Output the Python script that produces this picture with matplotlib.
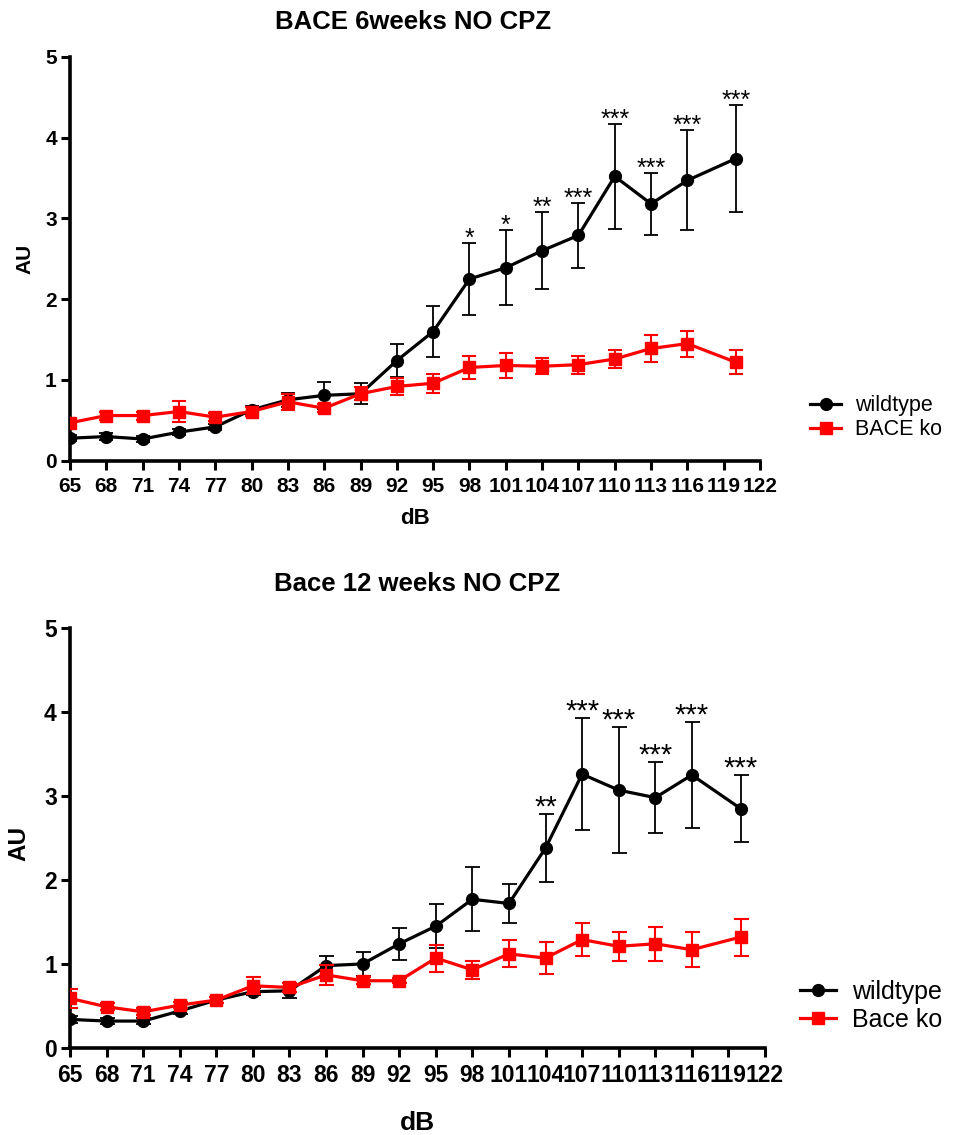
import matplotlib
matplotlib.use("Agg")
import matplotlib.pyplot as plt
from matplotlib.lines import Line2D

plt.rcParams['font.family'] = ['Liberation Sans', 'DejaVu Sans']

# Sound level (dB) for both sessions
db = [65, 68, 71, 74, 77, 80, 83, 86, 89, 92, 95, 98, 101, 104, 107, 110, 113, 116, 120]
xticks = list(range(65, 123, 3))
yticks = [0, 1, 2, 3, 4, 5]

# 6 weeks, no CPZ
wt6_mean = [0.28, 0.30, 0.27, 0.355, 0.42, 0.63, 0.755, 0.81, 0.83, 1.24, 1.60, 2.25, 2.39, 2.60, 2.79, 3.52, 3.18, 3.47, 3.74]
wt6_err = [0.04, 0.04, 0.04, 0.04, 0.04, 0.05, 0.09, 0.17, 0.13, 0.20, 0.31, 0.44, 0.46, 0.48, 0.40, 0.65, 0.38, 0.62, 0.66]
ko6_mean = [0.47, 0.56, 0.56, 0.61, 0.54, 0.61, 0.73, 0.65, 0.83, 0.92, 0.96, 1.155, 1.18, 1.17, 1.19, 1.26, 1.39, 1.45, 1.22]
ko6_err = [0.04, 0.05, 0.05, 0.13, 0.05, 0.05, 0.10, 0.05, 0.08, 0.11, 0.12, 0.145, 0.15, 0.10, 0.11, 0.11, 0.17, 0.16, 0.15]
sig6 = ["", "", "", "", "", "", "", "", "", "", "", "*", "*", "**", "***", "***", "***", "***", "***"]

# 12 weeks, no CPZ
wt12_mean = [0.34, 0.32, 0.32, 0.44, 0.57, 0.67, 0.68, 0.98, 1.00, 1.24, 1.45, 1.77, 1.72, 2.38, 3.26, 3.07, 2.98, 3.25, 2.85]
wt12_err = [0.04, 0.04, 0.04, 0.04, 0.04, 0.04, 0.09, 0.12, 0.14, 0.19, 0.26, 0.38, 0.23, 0.40, 0.67, 0.75, 0.42, 0.63, 0.40]
ko12_mean = [0.59, 0.49, 0.43, 0.51, 0.57, 0.74, 0.72, 0.87, 0.80, 0.80, 1.07, 0.93, 1.12, 1.07, 1.29, 1.21, 1.24, 1.17, 1.32]
ko12_err = [0.11, 0.04, 0.04, 0.04, 0.04, 0.10, 0.05, 0.12, 0.04, 0.03, 0.16, 0.11, 0.16, 0.19, 0.20, 0.17, 0.20, 0.21, 0.22]
sig12 = ["", "", "", "", "", "", "", "", "", "", "", "", "", "**", "***", "***", "***", "***", "***"]

RED = '#ff0000'
fig = plt.figure(figsize=(9.59, 11.35), dpi=100)


def panel(rect, title, title_xy, wt_m, wt_e, ko_m, ko_e, sig, ko_label,
          tick_fs, xlab_fs, ylab_fs, title_fs, star_fs, star_off, leg_fs,
          leg_pos, xlab_y, ylab_xy, capsize):
    ax = fig.add_axes(rect)
    ax.errorbar(db, wt_m, yerr=wt_e, color='black', lw=2.3, marker='o', ms=8.5,
                ecolor='black', elinewidth=1.3, capsize=capsize, capthick=1.3, zorder=3)
    ax.errorbar(db, ko_m, yerr=ko_e, color=RED, lw=2.3, marker='s', ms=8.5,
                ecolor=RED, elinewidth=1.5, capsize=capsize, capthick=1.5, zorder=4)
    for x, m, e, s in zip(db, wt_m, wt_e, sig):
        if s:
            ax.annotate(s, (x, m + e), xytext=(0, star_off), textcoords='offset points',
                        ha='center', va='baseline', fontsize=star_fs, color='black')
    ax.set_xlim(65, 122)
    ax.set_ylim(0, 5)
    ax.set_xticks(xticks)
    ax.set_yticks(yticks)
    for sp in ('top', 'right'):
        ax.spines[sp].set_visible(False)
    for sp in ('left', 'bottom'):
        ax.spines[sp].set_linewidth(2.6)
    ax.tick_params(axis='x', direction='out', length=6.5, width=2.2, pad=5)
    ax.tick_params(axis='y', direction='out', length=6.5, width=2.2, pad=3)
    for lab in ax.get_xticklabels() + ax.get_yticklabels():
        lab.set_fontsize(tick_fs)
        lab.set_fontweight('bold')
    ax.set_xlabel('dB', fontsize=xlab_fs, fontweight='bold', va='center')
    ax.xaxis.set_label_coords(0.5, xlab_y)
    ax.set_ylabel('AU', fontsize=ylab_fs, fontweight='bold', va='center')
    ax.yaxis.set_label_coords(*ylab_xy)
    fig.text(title_xy[0], title_xy[1], title, fontsize=title_fs, fontweight='bold',
             ha='center', va='center')
    handles = [Line2D([], [], color='black', lw=2.3, marker='o', ms=8.5),
               Line2D([], [], color=RED, lw=2.3, marker='s', ms=8.5)]
    fig.legend(handles, ['wildtype', ko_label], loc='center left', bbox_to_anchor=leg_pos,
               frameon=False, fontsize=leg_fs, handlelength=1.45, handletextpad=0.65,
               labelspacing=0.15, borderpad=0, borderaxespad=0)
    return ax


panel([0.073, 0.594, 0.7195, 0.356], 'BACE 6weeks NO CPZ', (0.431, 0.9805),
      wt6_mean, wt6_err, ko6_mean, ko6_err, sig6, 'BACE ko',
      tick_fs=15, xlab_fs=16, ylab_fs=15, title_fs=18.5, star_fs=18, star_off=-2,
      leg_fs=15.5, leg_pos=(0.8446, 0.632), xlab_y=-0.143, ylab_xy=(-0.065, 0.5),
      capsize=4.7)
panel([0.073, 0.0767, 0.7247, 0.370], 'Bace 12 weeks NO CPZ', (0.435, 0.4855),
      wt12_mean, wt12_err, ko12_mean, ko12_err, sig12, 'Bace ko',
      tick_fs=16.5, xlab_fs=19, ylab_fs=17.5, title_fs=18.5, star_fs=21, star_off=-1,
      leg_fs=18, leg_pos=(0.834, 0.1137), xlab_y=-0.178, ylab_xy=(-0.073, 0.488),
      capsize=5.4)

fig.savefig('out.png', dpi=100)
